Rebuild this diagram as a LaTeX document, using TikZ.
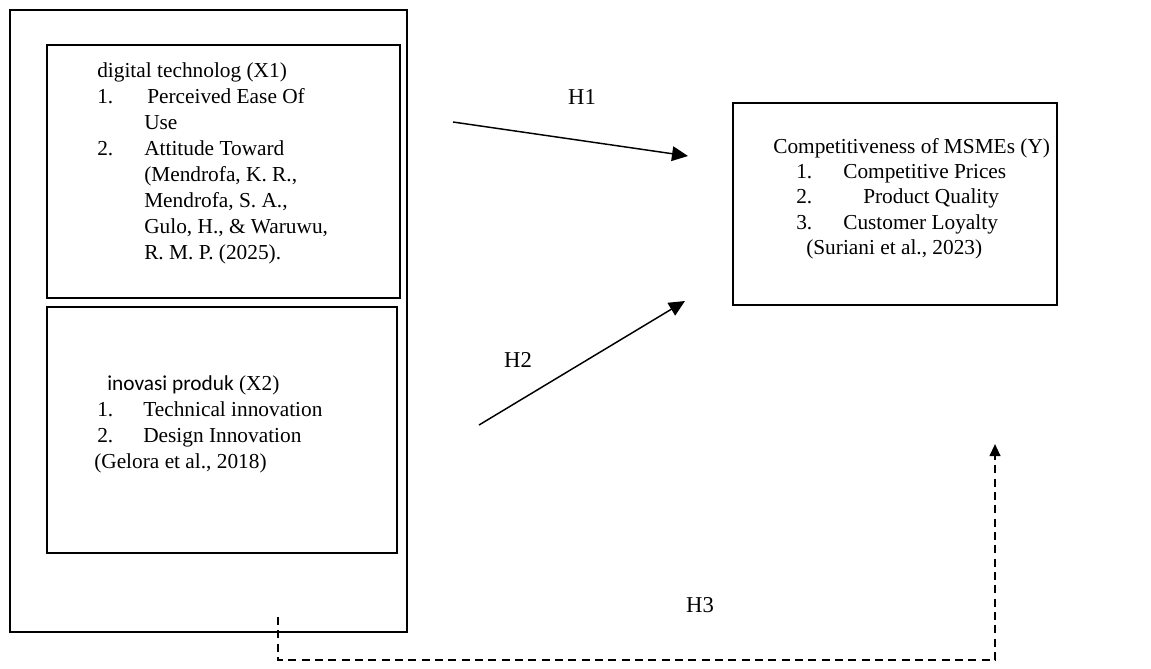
\documentclass[tikz,border=0pt]{standalone}
\usepackage{fontspec}
\setmainfont{Liberation Serif}
\newfontfamily\calibrifont{Carlito}
\usetikzlibrary{arrows.meta}
\tikzset{
  box/.style={draw,line width=1.4pt},
  txt/.style={anchor=north west,align=left,inner sep=0pt,font=\fontsize{16}{19.5}\selectfont},
  ytxt/.style={anchor=north west,align=left,inner sep=0pt,font=\fontsize{16}{19}\selectfont},
  hyp/.style={font=\fontsize{17}{20}\selectfont},
  link/.style={line width=1.1pt,-{Triangle[length=12pt,width=11pt]}},
  dashlink/.style={line width=1.5pt,dash pattern=on 6pt off 4pt,-{Triangle[length=9pt,width=8pt]}}
}
\begin{document}
\begin{tikzpicture}[x=0.75pt,y=-0.75pt]
\useasboundingbox (0,0) rectangle (1151,668);
% frames
\draw[box] (10,10) rectangle (407,632);
\draw[box] (47,45) rectangle (400,298);
\draw[box] (47,307) rectangle (397,553);
\draw[box] (733,103) rectangle (1057,305);
% variable texts
\node[txt] (x1) at (97,62) {digital technolog (X1)\\
  \makebox[37.5pt][l]{1.}Perceived Ease Of\\
  \hspace*{35.25pt}Use\\
  \makebox[35.25pt][l]{2.}Attitude Toward\\
  \hspace*{35.25pt}(Mendrofa, K. R.,\\
  \hspace*{35.25pt}Mendrofa, S. A.,\\
  \hspace*{35.25pt}Gulo, H., \& Waruwu,\\
  \hspace*{35.25pt}R. M. P. (2025).};
\node[txt] (x2) at (94,375) {\hspace*{9.75pt}{\calibrifont inovasi produk} (X2)\\
  \hspace*{2.25pt}\makebox[34.5pt][l]{1.}Technical innovation\\
  \hspace*{2.25pt}\makebox[34.5pt][l]{2.}Design Innovation\\
  (Gelora et al., 2018)};
\node[ytxt] (y) at (773,138) {Competitiveness of MSMEs (Y)\\
  \hspace*{17.25pt}\makebox[35.25pt][l]{1.}Competitive Prices\\
  \hspace*{17.25pt}\makebox[50.25pt][l]{2.}Product Quality\\
  \hspace*{17.25pt}\makebox[35.25pt][l]{3.}Customer Loyalty\\
  \hspace*{24.75pt}(Suriani et al., 2023)};
% hypotheses
\coordinate (h1a) at (453,122);
\coordinate (h1b) at (688,156);
\coordinate (h2a) at (479,425);
\coordinate (h2b) at (685,301);
\coordinate (h3a) at (278,617);
\coordinate (h3b) at (995,660);
\coordinate (h3c) at (995,444);
\draw[link] (h1a) -- (h1b);
\draw[link] (h2a) -- (h2b);
\draw[dashlink] (h3a) |- (h3b) -- (h3c);
\node[hyp] (h1) at (582,97) {H1};
\node[hyp] (h2) at (518,360) {H2};
\node[hyp] (h3) at (700,605) {H3};
\end{tikzpicture}
\end{document}
